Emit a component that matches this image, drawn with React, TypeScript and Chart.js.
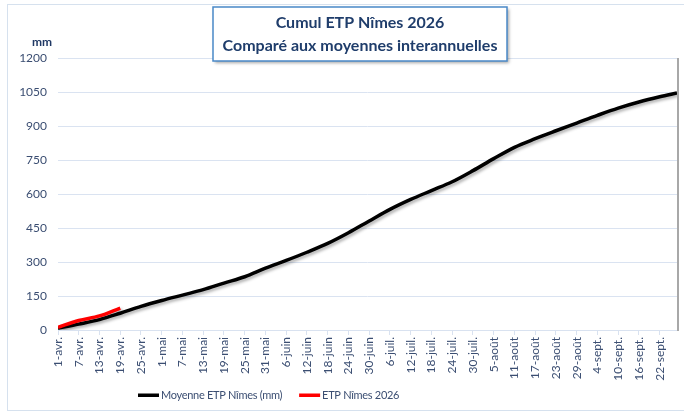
import { useEffect, useRef } from "react";
import { Chart, registerables } from "chart.js";
Chart.register(...registerables);

const FONT = 'Lato, "Open Sans", sans-serif';

const dateLabels = [
  "1-avr.", "7-avr.", "13-avr.", "19-avr.", "25-avr.", "1-mai", "7-mai", "13-mai", "19-mai", "25-mai",
  "31-mai", "6-juin", "12-juin", "18-juin", "24-juin", "30-juin", "6-juil.", "12-juil.", "18-juil.", "24-juil.",
  "30-juil.", "5-août", "11-août", "17-août", "23-août", "29-août", "4-sept.", "10-sept.", "16-sept.", "22-sept.",
];

const moyenneDays = [0, 6, 12, 18, 24, 30, 36, 42, 48, 54, 60, 66, 72, 78, 84, 90, 96, 102, 108, 114, 120, 126, 132, 138, 144, 150, 156, 162, 168, 174, 179];
const moyenneValues = [8, 26, 46, 74, 104, 130, 154, 178, 207, 235, 273, 307, 343, 382, 429, 481, 532, 576, 615, 654, 703, 756, 806, 844, 879, 913, 947, 979, 1006, 1029, 1046];

const etp2026Days = [0, 6, 12, 18];
const etp2026Values = [12, 42, 62, 97];

const yMax = 1200;
const yStep = 150;
const xMax = 179;
const xStep = 6;

const titleLines = ["Cumul ETP Nîmes 2026", "Comparé aux moyennes interannuelles"];
const yUnit = "mm";
const TEXT = "#3b4e72";

const decor = {
  id: "decor",
  beforeDraw(chart: any) {
    const { ctx } = chart;
    ctx.save();
    ctx.strokeStyle = "#d6e1ee";
    ctx.lineWidth = 1;
    ctx.strokeRect(7.5, 4.5, 690, 406);
    ctx.restore();
  },
  afterDraw(chart: any) {
    const { ctx, chartArea } = chart;
    ctx.save();
    // plot-area right shadow
    ctx.strokeStyle = "#a8a8a8";
    ctx.lineWidth = 2;
    ctx.beginPath();
    ctx.moveTo(chartArea.right + 1, chartArea.top);
    ctx.lineTo(chartArea.right + 1, chartArea.bottom + 1);
    ctx.stroke();
    // unit
    ctx.fillStyle = "#1f3864";
    ctx.font = `bold 12px ${FONT}`;
    ctx.textAlign = "center";
    ctx.textBaseline = "middle";
    ctx.fillText(yUnit, 42, 42);
    // legend
    ctx.font = `11px ${FONT}`;
    (ctx as any).letterSpacing = "-0.3px";
    ctx.textAlign = "left";
    let lx = 138;
    const ly = 395;
    chart.data.datasets.forEach((ds: any) => {
      ctx.fillStyle = ds.borderColor;
      ctx.fillRect(lx, ly - 1.5, 21, 3.5);
      lx += 23;
      ctx.fillStyle = TEXT;
      ctx.fillText(ds.label, lx, ly);
      lx += ctx.measureText(ds.label).width + 17;
    });
    (ctx as any).letterSpacing = "0px";
    // title box
    const bx = 213, by = 7, bw = 294, bh = 54;
    ctx.shadowColor = "rgba(0,0,0,0.35)";
    ctx.shadowBlur = 3;
    ctx.shadowOffsetX = 2;
    ctx.shadowOffsetY = 2;
    ctx.fillStyle = "#ffffff";
    ctx.fillRect(bx, by, bw, bh);
    ctx.shadowColor = "transparent";
    ctx.strokeStyle = "#4a89c8";
    ctx.lineWidth = 1.5;
    ctx.strokeRect(bx, by, bw, bh);
    ctx.fillStyle = "#1f3d6b";
    ctx.font = `bold 16px ${FONT}`;
    ctx.textAlign = "center";
    ctx.fillText(titleLines[0], bx + bw / 2, 23);
    ctx.fillText(titleLines[1], bx + bw / 2, 46);
    ctx.restore();
  },
};

const lineShadow = {
  id: "lineShadow",
  beforeDatasetsDraw(chart: any) {
    const { ctx } = chart;
    ctx.save();
    ctx.shadowColor = "rgba(0,0,0,0.3)";
    ctx.shadowBlur = 3;
    ctx.shadowOffsetX = 2;
    ctx.shadowOffsetY = 2;
  },
  afterDatasetsDraw(chart: any) {
    chart.ctx.restore();
  },
};

export default function App() {
  const ref = useRef<HTMLCanvasElement>(null);
  useEffect(() => {
    document.body.style.margin = "0";
    const canvas = ref.current!;
    const chart = new Chart(canvas, {
      type: "line",
      data: {
        datasets: [
          {
            label: "Moyenne ETP Nîmes (mm)",
            data: moyenneDays.map((d, i) => ({ x: d, y: moyenneValues[i] })),
            borderColor: "#000000",
            backgroundColor: "#000000",
            borderWidth: 3.5,
            pointRadius: 0,
            cubicInterpolationMode: "monotone",
            order: 2,
          },
          {
            label: "ETP Nîmes 2026",
            data: etp2026Days.map((d, i) => ({ x: d, y: etp2026Values[i] })),
            borderColor: "#ff0000",
            backgroundColor: "#ff0000",
            borderWidth: 3.5,
            pointRadius: 0,
            cubicInterpolationMode: "monotone",
            order: 1,
          },
        ],
      },
      options: {
        animation: false,
        responsive: false,
        layout: { padding: { top: 58, right: 7, left: 0, bottom: 29 } },
        scales: {
          x: {
            type: "linear",
            min: 0,
            max: xMax,
            afterFit: (s: any) => { s.height = 55; },
            border: { color: "#d9e2f0", width: 1 },
            grid: { drawOnChartArea: false, drawTicks: true, tickLength: 5, color: "#d9e2f0" },
            ticks: {
              stepSize: xStep,
              includeBounds: false,
              autoSkip: false,
              minRotation: 90,
              maxRotation: 90,
              padding: 2,
              color: TEXT,
              font: { family: FONT, size: 12 },
              callback: (v: any) => dateLabels[Math.round(Number(v) / xStep)] ?? "",
            },
          },
          y: {
            min: 0,
            max: yMax,
            afterFit: (s: any) => { s.width = 58; },
            border: { display: false },
            grid: { drawTicks: false, color: "#dae3f1" },
            ticks: {
              stepSize: yStep,
              padding: 11,
              color: TEXT,
              font: { family: FONT, size: 12 },
              callback: (v: any) => String(v),
            },
          },
        },
        plugins: {
          legend: { display: false },
          tooltip: { enabled: false },
        },
      },
      plugins: [lineShadow, decor],
    } as any);
    return () => chart.destroy();
  }, []);
  return (
    <div style={{ position: "absolute", left: 0, top: 0, width: 684, height: 414, background: "#fff" }}>
      <canvas ref={ref} width={684} height={414} />
    </div>
  );
}
